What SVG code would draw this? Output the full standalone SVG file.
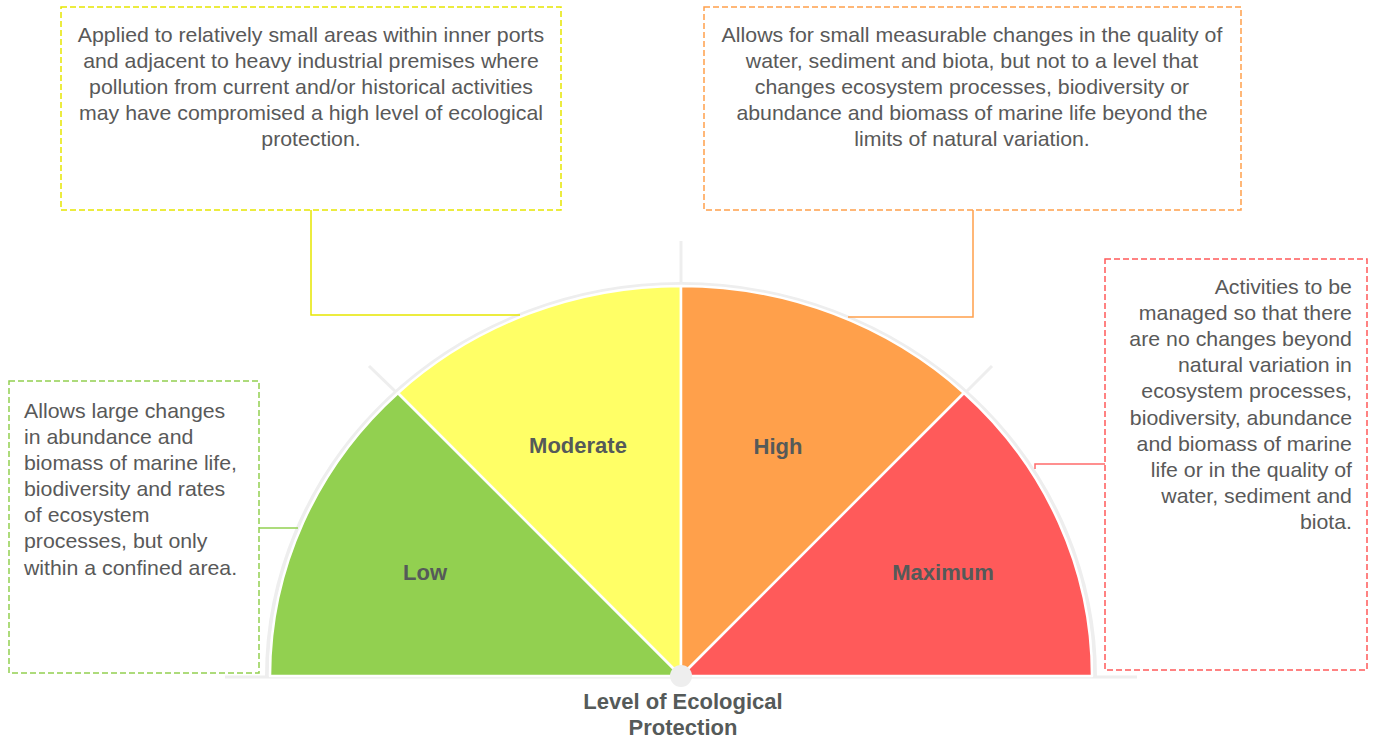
<svg xmlns="http://www.w3.org/2000/svg" width="1375" height="742" viewBox="0 0 1375 742">
  <style>
    .desc { font-family: "Liberation Sans", Arial, sans-serif; font-size: 20px; fill: #595959; }
    .mid { text-anchor: middle; }
    .end { text-anchor: end; }
    .lbl { font-family: "Liberation Sans", Arial, sans-serif; font-size: 22px; font-weight: bold; fill: #555a59; text-anchor: middle; }
    .box { fill: #ffffff; stroke-width: 1.5; stroke-dasharray: 6 3; }
    .wedge { stroke: #ffffff; stroke-width: 2.5; stroke-linejoin: round; }
    .tick { stroke: #eeeeee; stroke-width: 3; fill: none; }
    .conn { fill: none; stroke-width: 1.5; }
  </style>
  <rect width="1375" height="742" fill="#ffffff"/>

  <!-- gauge -->
  <g id="gauge">
    <line class="tick" x1="225" y1="677" x2="1137" y2="677"/>
    <line class="tick" x1="681" y1="241" x2="681" y2="288"/>
    <line class="tick" x1="369" y1="366" x2="398" y2="394"/>
    <line class="tick" x1="992" y1="366" x2="964" y2="394"/>
    <path d="M267,677 A414,393 0 0,1 1095,677" fill="none" stroke="#eeeeee" stroke-width="4"/>
    <path id="wedge-low" class="wedge" d="M681,676 L270,676 A411,390 0 0,1 398,393 Z" fill="#92d050"/>
    <path id="wedge-moderate" class="wedge" d="M681,676 L398,393 A411,390 0 0,1 681,286 Z" fill="#ffff66"/>
    <path id="wedge-high" class="wedge" d="M681,676 L681,286 A411,390 0 0,1 964,393 Z" fill="#ffa04b"/>
    <path id="wedge-maximum" class="wedge" d="M681,676 L964,393 A411,390 0 0,1 1092,676 Z" fill="#ff5a5a"/>
    <circle cx="681" cy="676" r="11" fill="#eeeeee"/>
    <text class="lbl" x="425" y="580">Low</text>
    <text class="lbl" x="578" y="453">Moderate</text>
    <text class="lbl" x="778" y="454">High</text>
    <text class="lbl" x="943" y="580">Maximum</text>
  </g>

  <g id="title">
    <text class="lbl" x="683" y="709">Level of Ecological</text>
    <text class="lbl" x="683" y="735">Protection</text>
  </g>

  <!-- connectors -->
  <g id="connectors">
    <polyline class="conn" stroke="#e6e600" points="311,210 311,315 520,315"/>
    <polyline class="conn" stroke="#ffa04b" points="973,210 973,317 848,317"/>
    <polyline class="conn" stroke="#ff6b6b" points="1105,464 1035,464 1035,469"/>
    <polyline class="conn" stroke="#92d050" points="259,528 298,528"/>
  </g>

  <!-- description boxes; text is set slightly wide -->
  <g id="box-moderate">
    <rect class="box" x="61" y="7" width="500" height="203" stroke="#e6e600"/>
    <g class="desc mid" transform="matrix(1.065,0,0,1,-20.2,0)">
      <text x="311" y="42">Applied to relatively small areas within inner ports</text>
      <text x="311" y="68">and adjacent to heavy industrial premises where</text>
      <text x="311" y="94">pollution from current and/or historical activities</text>
      <text x="311" y="120">may have compromised a high level of ecological</text>
      <text x="311" y="146">protection.</text>
    </g>
  </g>

  <g id="box-high">
    <rect class="box" x="704" y="7" width="537" height="203" stroke="#ffa04b"/>
    <g class="desc mid" transform="matrix(1.065,0,0,1,-63.2,0)">
      <text x="972" y="42">Allows for small measurable changes in the quality of</text>
      <text x="972" y="68">water, sediment and biota, but not to a level that</text>
      <text x="972" y="94">changes ecosystem processes, biodiversity or</text>
      <text x="972" y="120">abundance and biomass of marine life beyond the</text>
      <text x="972" y="146">limits of natural variation.</text>
    </g>
  </g>

  <g id="box-maximum">
    <rect class="box" x="1105" y="259" width="262" height="411" stroke="#ff5a5a"/>
    <g class="desc end" transform="matrix(1.065,0,0,1,-87.9,0)">
      <text x="1352" y="294">Activities to be</text>
      <text x="1352" y="320">managed so that there</text>
      <text x="1352" y="346">are no changes beyond</text>
      <text x="1352" y="372">natural variation in</text>
      <text x="1352" y="398">ecosystem processes,</text>
      <text x="1352" y="425">biodiversity, abundance</text>
      <text x="1352" y="451">and biomass of marine</text>
      <text x="1352" y="477">life or in the quality of</text>
      <text x="1352" y="503">water, sediment and</text>
      <text x="1352" y="529">biota.</text>
    </g>
  </g>

  <g id="box-low">
    <rect class="box" x="9" y="381" width="250" height="292" stroke="#92d050"/>
    <g class="desc" transform="matrix(1.065,0,0,1,-1.56,0)">
      <text x="24" y="418">Allows large changes</text>
      <text x="24" y="444">in abundance and</text>
      <text x="24" y="470">biomass of marine life,</text>
      <text x="24" y="496">biodiversity and rates</text>
      <text x="24" y="522">of ecosystem</text>
      <text x="24" y="548">processes, but only</text>
      <text x="24" y="575">within a confined area.</text>
    </g>
  </g>
</svg>
